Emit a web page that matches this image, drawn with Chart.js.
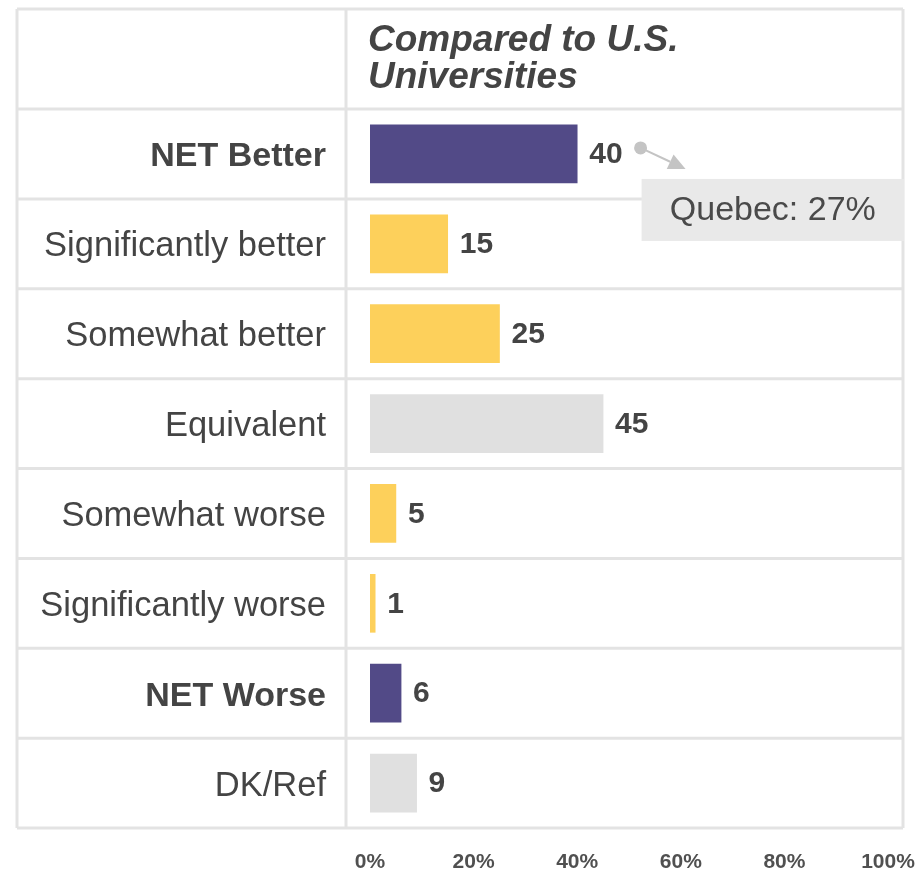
<!DOCTYPE html>
<html>
<head>
<meta charset="utf-8">
<script src="https://cdn.jsdelivr.net/npm/chart.js@4.4.1/dist/chart.umd.min.js"></script>
<style>
  html, body { margin: 0; padding: 0; background: #fff; }
  #wrap { width: 922px; height: 872px; }
</style>
</head>
<body>
<div id="wrap"><canvas id="chart"></canvas></div>
<script>
// ===== Data =====
const categories = ["NET Better", "Significantly better", "Somewhat better", "Equivalent",
                    "Somewhat worse", "Significantly worse", "NET Worse", "DK/Ref"];
const values = [40, 15, 25, 45, 5, 1, 6, 9];
const rowGroups = ["net", "detail", "detail", "neutral", "detail", "detail", "net", "neutral"];
const headerLines = ["Compared to U.S.", "Universities"];
const xTicks = [0, 20, 40, 60, 80, 100];
const quebecValue = 27;

// ===== Styles =====
const FONT = '"Liberation Sans", Arial, sans-serif';
const TEXT = "#444444";
const LINE = "#e3e3e3";
const palette = { net: "#524a87", detail: "#fdd05b", neutral: "#e0e0e0" };

const table = { left: 17, right: 903, top: 9, divider: 346 };

// table grid: outer frame, column divider and one line per row boundary
const tableLines = {
  id: "tableLines",
  beforeDatasetsDraw(chart) {
    const { ctx, chartArea, scales } = chart;
    const y = scales.y;
    const half = (y.getPixelForValue(1) - y.getPixelForValue(0)) / 2;
    ctx.save();
    ctx.strokeStyle = LINE;
    ctx.lineWidth = 3;
    ctx.beginPath();
    ctx.moveTo(table.left, table.top);
    ctx.lineTo(table.right, table.top);
    categories.forEach((c, i) => {
      const yy = y.getPixelForValue(i) - half;
      ctx.moveTo(table.left, yy);
      ctx.lineTo(table.right, yy);
    });
    const bottom = y.getPixelForValue(categories.length - 1) + half;
    ctx.moveTo(table.left, bottom);
    ctx.lineTo(table.right, bottom);
    ctx.moveTo(table.left, table.top);
    ctx.lineTo(table.left, bottom);
    ctx.moveTo(table.right, table.top);
    ctx.lineTo(table.right, bottom);
    ctx.moveTo(table.divider, table.top);
    ctx.lineTo(table.divider, bottom);
    ctx.stroke();

    // column header
    ctx.fillStyle = TEXT;
    ctx.font = `italic bold 37px ${FONT}`;
    ctx.textAlign = "left";
    ctx.textBaseline = "alphabetic";
    headerLines.forEach((t, i) => ctx.fillText(t, chartArea.left - 2, 51 + i * 37));
    ctx.restore();
  }
};

// value labels + Quebec callout next to the first bar
const valueLabels = {
  id: "valueLabels",
  afterDraw(chart) {
    const { ctx } = chart;
    const bars = chart.getDatasetMeta(0).data;
    ctx.save();
    ctx.fillStyle = TEXT;
    ctx.font = `bold 30px ${FONT}`;
    ctx.textAlign = "left";
    ctx.textBaseline = "middle";
    bars.forEach((bar, i) => {
      ctx.fillText(String(values[i]), bar.x + 12, bar.y + 1);
    });

    const first = bars[0];
    const w = ctx.measureText(String(values[0])).width;
    const dotX = first.x + 12 + w + 18;
    const dotY = first.y - 6;
    const tipX = dotX + 45, tipY = dotY + 21;

    ctx.fillStyle = "#c4c4c4";
    ctx.strokeStyle = "#c4c4c4";
    ctx.beginPath();
    ctx.arc(dotX, dotY, 6.5, 0, Math.PI * 2);
    ctx.fill();

    const ang = Math.atan2(tipY - dotY, tipX - dotX);
    const headLen = 17, headW = 8;
    const bx = tipX - headLen * Math.cos(ang), by = tipY - headLen * Math.sin(ang);
    ctx.lineWidth = 2;
    ctx.beginPath();
    ctx.moveTo(dotX, dotY);
    ctx.lineTo(bx, by);
    ctx.stroke();
    ctx.beginPath();
    ctx.moveTo(tipX, tipY);
    ctx.lineTo(bx + headW * Math.sin(ang), by - headW * Math.cos(ang));
    ctx.lineTo(bx - headW * Math.sin(ang), by + headW * Math.cos(ang));
    ctx.closePath();
    ctx.fill();

    const boxL = dotX + 1, boxT = first.y + 25, boxR = table.right + 1, boxH = 62;
    ctx.fillStyle = "#e9e9e9";
    ctx.fillRect(boxL, boxT, boxR - boxL, boxH);
    ctx.fillStyle = "#4a4a4a";
    ctx.font = `34px ${FONT}`;
    ctx.textAlign = "center";
    ctx.fillText(`Quebec: ${quebecValue}%`, (boxL + boxR) / 2, boxT + boxH / 2 + 1);
    ctx.restore();
  }
};

new Chart(document.getElementById("chart"), {
  type: "bar",
  data: {
    labels: categories,
    datasets: [{
      data: values,
      backgroundColor: rowGroups.map(g => palette[g]),
      barThickness: 58
    }]
  },
  options: {
    indexAxis: "y",
    responsive: true,
    maintainAspectRatio: false,
    animation: false,
    layout: { padding: { top: 109, right: 34, left: 0, bottom: 0 } },
    plugins: {
      legend: { display: false },
      tooltip: { enabled: false }
    },
    scales: {
      y: {
        grid: { display: false, drawTicks: false },
        border: { display: false },
        afterFit: s => {
          s.width = 370;
          s.paddingTop = 0;
          s.paddingBottom = 0;
        },
        ticks: {
          padding: 44,
          labelOffset: 3,
          color: TEXT,
          font: c => ({
            family: FONT,
            size: isNet(c.index) ? 34 : 34.5,
            weight: isNet(c.index) ? "bold" : "normal"
          })
        }
      },
      x: {
        min: 0,
        max: 100,
        grid: { display: false, drawTicks: false },
        border: { display: false },
        afterFit: s => {
          s.height = 44;
          s.paddingLeft = 0;
          s.paddingRight = 0;
        },
        afterBuildTicks: s => { s.ticks = xTicks.map(v => ({ value: v })); },
        ticks: {
          padding: 22,
          color: "#505050",
          font: { family: FONT, size: 21, weight: "bold" },
          callback: v => v + "%"
        }
      }
    }
  },
  plugins: [tableLines, valueLabels]
});

function isNet(i) {
  return rowGroups[i] === "net";
}
</script>
</body>
</html>
